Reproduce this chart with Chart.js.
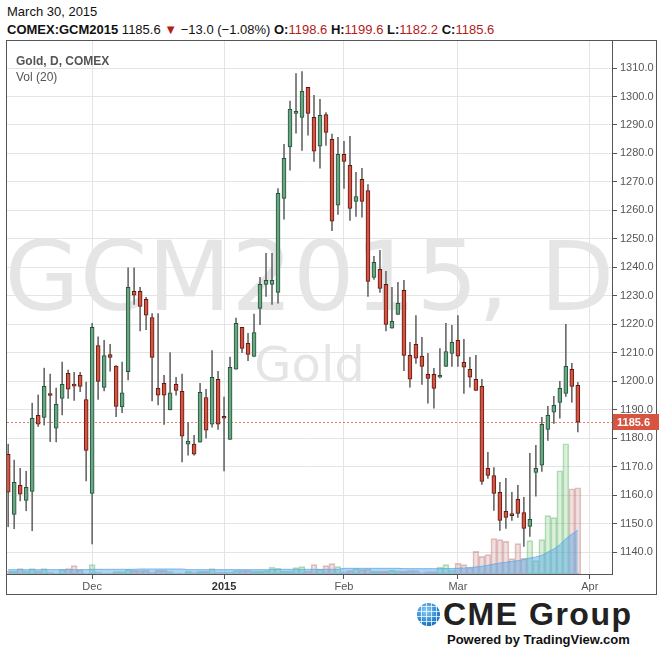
<!DOCTYPE html>
<html>
<head>
<meta charset="utf-8">
<script src="https://cdn.jsdelivr.net/npm/chart.js"></script>
<style>
  html, body { margin: 0; padding: 0; background: #fff; }
  body { width: 664px; height: 652px; position: relative; overflow: hidden; font-family: "Liberation Sans", sans-serif; }
  .abs { position: absolute; white-space: nowrap; }
  #head1 { left: 7px; top: 4px; font-size: 13px; line-height: 15px; color: #111; }
  #head2 { left: 7px; top: 22px; font-size: 13px; line-height: 15px; color: #111; }
  #head2 b { font-weight: bold; }
  #head2 .dn { color: #b3201b; }
  #frame { left: 6px; top: 40px; width: 649px; height: 553px; border: 1px solid #555; }
  #wrap { left: 7px; top: 41px; width: 654px; height: 553px; }
  #title { left: 16px; top: 54px; font-size: 12px; line-height: 14px; font-weight: bold; color: #555; }
  #vol { left: 16px; top: 70px; font-size: 12px; line-height: 14px; color: #555; }
  #globe { left: 417px; top: 603px; width: 23px; height: 23px; border-radius: 50%;
    background:
      repeating-linear-gradient(0deg, transparent 0 4px, rgba(255,255,255,0.75) 4px 5px),
      repeating-linear-gradient(90deg, transparent 0 4px, rgba(255,255,255,0.75) 4px 5px),
      radial-gradient(circle at 40% 35%, #8fd0f5, #2a86d2 55%, #0f55a3); }
  #cme { left: 443px; top: 598px; font-size: 32px; line-height: 32px; font-weight: bold; letter-spacing: 1.5px; color: #222; }
  #tv { left: 447px; top: 633px; font-size: 13px; line-height: 13px; font-weight: bold; color: #111; }
</style>
</head>
<body>
<div id="head1" class="abs">March 30, 2015</div>
<div id="head2" class="abs"><b>COMEX:GCM2015</b> 1185.6 <span class="dn">&#9660;</span> &minus;13.0 (&minus;1.08%) <b>O:</b><span class="dn">1198.6</span> <b>H:</b><span class="dn">1199.6</span> <b>L:</b><span class="dn">1182.2</span> <b>C:</b><span class="dn">1185.6</span></div>
<div id="frame" class="abs"></div>
<div id="wrap" class="abs"><canvas id="chart" width="654" height="553"></canvas></div>
<div id="title" class="abs">Gold, D, COMEX</div>
<div id="vol" class="abs">Vol (20)</div>
<div id="globe" class="abs"></div>
<div id="cme" class="abs">CME Group</div>
<div id="tv" class="abs">Powered by TradingView.com</div>
<script>
// Daily bars, Nov 10 2014 .. Mar 30 2015
var open = [1174.3, 1153.2, 1163.4, 1158.1, 1161.3, 1188.0, 1187.3, 1195.6, 1183.5, 1194.0,
  1202.8, 1198.7, 1202.1, 1193.6, 1160.6, 1212.5, 1197.8, 1209.4, 1205.3, 1191.0,
  1203.4, 1231.6, 1231.6, 1228.8, 1222.4, 1197.5, 1199.3, 1189.9, 1198.9, 1196.5,
  1177.9, 1177.9, 1178.6, 1194.3, 1184.9, 1200.7, 1187.4, 1179.6, 1204.2, 1218.9,
  1213.3, 1208.7, 1225.6, 1234.0, 1234.0, 1231.2, 1264.2, 1282.3, 1294.1, 1292.7,
  1303.2, 1292.7, 1282.6, 1293.7, 1285.0, 1261.8, 1279.7, 1275.8, 1263.2, 1270.9,
  1267.0, 1236.5, 1239.3, 1234.0, 1218.6, 1223.5, 1231.9, 1209.1, 1213.0, 1208.8,
  1202.4, 1202.4, 1201.4, 1205.2, 1209.8, 1214.4, 1206.6, 1204.2, 1200.7, 1198.2,
  1169.4, 1166.9, 1161.0, 1154.3, 1153.1, 1158.5, 1153.9, 1149.0, 1168.0, 1170.5,
  1183.1, 1189.1, 1192.6, 1195.7, 1204.2, 1198.6];
var high = [1177.9, 1172.3, 1169.4, 1168.4, 1192.3, 1195.2, 1204.6, 1202.5, 1197.6, 1206.7,
  1203.9, 1203.1, 1203.1, 1199.7, 1220.3, 1215.6, 1214.4, 1213.0, 1205.5, 1206.7,
  1239.8, 1239.8, 1233.0, 1229.5, 1223.8, 1223.8, 1202.1, 1210.1, 1201.4, 1202.5,
  1185.6, 1181.0, 1199.3, 1197.2, 1210.8, 1203.5, 1194.4, 1208.5, 1222.2, 1218.9,
  1216.8, 1223.6, 1236.5, 1244.9, 1244.9, 1267.7, 1283.2, 1298.4, 1308.1, 1308.8,
  1303.2, 1300.4, 1299.0, 1294.4, 1286.8, 1285.7, 1284.3, 1286.0, 1273.4, 1274.8,
  1269.1, 1243.9, 1246.0, 1238.6, 1233.0, 1234.7, 1235.4, 1213.7, 1223.1, 1215.4,
  1209.8, 1204.5, 1211.5, 1220.3, 1219.6, 1223.1, 1214.7, 1208.4, 1209.1, 1200.7,
  1175.0, 1169.7, 1164.5, 1165.9, 1161.0, 1163.4, 1159.2, 1174.7, 1177.5, 1187.3,
  1191.2, 1194.7, 1200.0, 1220.0, 1206.3, 1199.6];
var low = [1148.9, 1148.2, 1158.0, 1154.5, 1147.5, 1184.1, 1184.6, 1178.8, 1178.7, 1188.2,
  1194.0, 1193.3, 1196.3, 1165.0, 1142.9, 1193.6, 1196.6, 1203.5, 1187.6, 1189.0,
  1200.5, 1227.0, 1217.7, 1218.1, 1193.1, 1191.7, 1184.8, 1189.9, 1195.1, 1171.7,
  1174.0, 1174.0, 1178.6, 1180.0, 1183.9, 1183.1, 1168.5, 1179.6, 1204.2, 1210.0,
  1207.2, 1208.7, 1219.9, 1229.8, 1227.0, 1227.4, 1256.9, 1274.1, 1287.1, 1281.1,
  1286.4, 1277.2, 1274.8, 1282.8, 1252.9, 1258.6, 1267.7, 1256.5, 1257.9, 1257.6,
  1229.8, 1235.8, 1231.2, 1217.7, 1218.6, 1223.5, 1203.7, 1197.9, 1206.3, 1198.9,
  1192.3, 1190.5, 1201.2, 1205.2, 1205.2, 1205.2, 1195.7, 1197.9, 1196.8, 1163.8,
  1165.9, 1154.6, 1147.6, 1148.3, 1151.1, 1152.2, 1142.0, 1145.5, 1159.6, 1168.3,
  1179.2, 1185.2, 1187.0, 1194.7, 1192.6, 1182.2];
var close = [1161.0, 1164.5, 1160.3, 1162.7, 1187.0, 1184.9, 1198.2, 1195.0, 1191.9, 1198.9,
  1197.2, 1198.3, 1198.2, 1175.7, 1218.9, 1199.9, 1209.0, 1208.4, 1191.2, 1195.9,
  1233.0, 1230.2, 1226.3, 1223.2, 1208.4, 1195.1, 1195.1, 1195.9, 1196.8, 1180.7,
  1179.0, 1174.4, 1196.1, 1182.8, 1201.4, 1184.9, 1187.0, 1204.9, 1220.3, 1211.5,
  1209.4, 1217.1, 1234.0, 1235.4, 1235.4, 1266.0, 1278.3, 1295.6, 1294.8, 1301.8,
  1294.1, 1280.8, 1293.4, 1287.4, 1256.2, 1279.7, 1277.2, 1260.7, 1264.9, 1263.2,
  1235.1, 1241.8, 1232.6, 1220.0, 1221.0, 1227.4, 1209.1, 1200.7, 1208.1, 1205.2,
  1201.0, 1197.5, 1201.8, 1210.4, 1213.7, 1208.8, 1204.9, 1201.4, 1196.8, 1164.8,
  1166.9, 1160.6, 1151.1, 1152.2, 1152.8, 1153.6, 1148.3, 1151.5, 1169.4, 1184.9,
  1188.0, 1191.5, 1197.5, 1205.2, 1198.2, 1185.6];
// volume, thousands of contracts
var volume = [4.5, 4, 8, 4.5, 8, 4.5, 8, 2.5, 1.5, 6.5,
  8, 12.5, 6.5, 1.5, 14, 2.5, 1.5, 1.5, 3.5, 3.5,
  6.5, 5.5, 5, 5.5, 2.5, 5.5, 5.5, 3.5, 1.5, 1.5,
  4, 2.5, 4, 4, 8, 3, 2.5, 2.5, 5, 5,
  5.5, 4, 4, 5, 10, 8.5, 4.5, 4.5, 9.5, 11,
  4.5, 14, 7, 12.5, 15.5, 11, 3, 5, 8, 6.5,
  7.5, 4, 4, 4, 5.5, 4.5, 4, 5, 5, 2,
  3.5, 3.5, 10, 14, 6, 16, 14, 9, 34, 26.5,
  29, 53, 51.5, 49, 23, 45.5, 24, 50, 20, 51.5,
  87.5, 84.5, 155, 195.5, 128, 129.5];
// Vol (20) average line as drawn
var volAvg = [6.5, 6.5, 6.5, 6.5, 6.5, 6.5, 6.5, 6.5, 6.5, 6.5,
  6.5, 6.5, 6.5, 6.5, 7, 7, 7, 7, 7, 7,
  7, 7, 7.5, 7.5, 7.5, 7.5, 7.5, 7.5, 7.5, 7.5,
  6.5, 6.5, 6.5, 6.5, 6.5, 6.5, 6.5, 6.5, 6.5, 6.5,
  6.5, 6.5, 6.5, 6.5, 6.5, 7, 7, 7, 7, 7,
  7, 7, 7, 7, 7, 7, 8.5, 8.5, 8.5, 8.5,
  8.5, 8.5, 8.5, 8.5, 8.5, 8.5, 8, 8, 8, 8,
  8, 8, 8, 8.3, 8.3, 8.5, 9, 9.8, 10.5, 11.5,
  13, 15, 16.5, 17.5, 19, 20, 21.8, 24, 25.5, 28,
  33, 37.5, 44, 53, 60, 65.5];
var xTickIdx = [14, 36, 56, 75, 97];
var xTickText = ["Dec", "2015", "Feb", "Mar", "Apr"];
var yTicks = [1140, 1150, 1160, 1170, 1180, 1190, 1200, 1210, 1220, 1230, 1240, 1250, 1260, 1270, 1280, 1290, 1300, 1310];
var lastPrice = 1185.6;

var GREEN = "#6ba583", GREEN_D = "#225437";
var RED = "#d75442", RED_D = "#5b1a13";
var up = close.map(function (c, i) { return c >= open[i]; });

var overlay = {
  id: "overlay",
  beforeDraw: function (chart) {
    var a = chart.chartArea, ctx = chart.ctx;
    var cx = (a.left + a.right) / 2;
    ctx.save();
    ctx.fillStyle = "rgba(0,0,0,0.1)";
    ctx.textAlign = "center";
    ctx.textBaseline = "alphabetic";
    ctx.font = "97px 'DejaVu Sans'";
    ctx.fillText("GCM2015, D", cx, 269);
    ctx.font = "48px 'DejaVu Sans'";
    ctx.fillText("Gold", cx, 340);
    ctx.restore();
  },
  beforeDatasetsDraw: function (chart) {
    var a = chart.chartArea, ctx = chart.ctx;
    var y = Math.round(chart.scales.y.getPixelForValue(lastPrice)) + 0.5;
    ctx.save();
    ctx.strokeStyle = "rgba(226,90,70,0.8)";
    ctx.lineWidth = 1;
    ctx.setLineDash([2, 2]);
    ctx.beginPath();
    ctx.moveTo(a.left, y);
    ctx.lineTo(a.right, y);
    ctx.stroke();
    ctx.restore();
  },
  afterDraw: function (chart) {
    var a = chart.chartArea, ctx = chart.ctx;
    var y = Math.round(chart.scales.y.getPixelForValue(lastPrice));
    ctx.save();
    ctx.fillStyle = "#d75442";
    ctx.fillRect(a.right + 1, y - 8, 46, 16);
    ctx.fillStyle = "#fff";
    ctx.font = "bold 11px 'Liberation Sans'";
    ctx.textBaseline = "middle";
    ctx.fillText(lastPrice.toFixed(1), a.right + 5, y + 1);
    ctx.restore();
  }
};

new Chart(document.getElementById("chart"), {
  type: "bar",
  data: {
    datasets: [
      {
        type: "bar",
        data: open.map(function (o, i) { return { x: i, y: [o, close[i]] }; }),
        backgroundColor: up.map(function (u) { return u ? GREEN : RED; }),
        borderColor: up.map(function (u) { return u ? GREEN_D : RED_D; }),
        borderWidth: 1,
        borderSkipped: false,
        barThickness: 4,
        minBarLength: 2,
        grouped: false,
        yAxisID: "y",
        order: 0,
      },
      {
        type: "bar",
        data: low.map(function (l, i) { return { x: i, y: [l, high[i]] }; }),
        backgroundColor: "#6b6b6b",
        borderWidth: 0,
        barThickness: 1,
        grouped: false,
        yAxisID: "y",
        order: 1,
      },
      {
        type: "line",
        data: volAvg.map(function (v, i) { return { x: i, y: v }; }),
        borderColor: "rgba(95,170,230,0.8)",
        backgroundColor: "rgba(90,170,232,0.5)",
        borderWidth: 1,
        pointRadius: 0,
        fill: "origin",
        tension: 0,
        yAxisID: "vol",
        order: 2,
      },
      {
        type: "bar",
        data: volume.map(function (v, i) { return { x: i, y: v }; }),
        backgroundColor: up.map(function (u) { return u ? "rgba(120,195,125,0.25)" : "rgba(200,130,130,0.25)"; }),
        borderColor: up.map(function (u) { return u ? "rgba(110,190,115,0.5)" : "rgba(190,120,120,0.45)"; }),
        borderWidth: 1,
        borderSkipped: false,
        barThickness: 6,
        grouped: false,
        yAxisID: "vol",
        order: 3,
      },
    ],
  },
  options: {
    responsive: false,
    animation: false,
    layout: { padding: 0 },
    plugins: { legend: { display: false }, tooltip: { enabled: false } },
    scales: {
      x: {
        type: "linear",
        position: "bottom",
        offset: false,
        min: -0.2,
        max: 100.7,
        grid: { offset: false, color: "#e4e4e4", tickColor: "#555", tickLength: 5 },
        border: { color: "#555" },
        afterBuildTicks: function (s) { s.ticks = xTickIdx.map(function (v) { return { value: v }; }); },
        afterFit: function (s) { s.height = 20; s.paddingLeft = 0; s.paddingRight = 0; },
        ticks: {
          autoSkip: false,
          maxRotation: 0,
          padding: 1,
          color: function (ctx) { return ctx.tick && ctx.tick.value === 36 ? "#333" : "#555"; },
          font: function (ctx) {
            return { family: "'Liberation Sans'", size: 11, weight: ctx.tick && ctx.tick.value === 36 ? "bold" : "normal" };
          },
          callback: function (v) { return xTickText[xTickIdx.indexOf(v)]; },
        },
      },
      y: {
        position: "right",
        min: 1132.3,
        max: 1319.5,
        grid: { color: "#e4e4e4", tickColor: "#555", tickLength: 5 },
        border: { color: "#555" },
        afterBuildTicks: function (s) { s.ticks = yTicks.map(function (v) { return { value: v }; }); },
        afterFit: function (s) { s.width = 49; s.paddingTop = 0; s.paddingBottom = 0; },
        ticks: {
          padding: 3,
          color: "#555",
          font: { family: "'Liberation Sans'", size: 11 },
          callback: function (v) { return Number(v).toFixed(1); },
        },
      },
      vol: { display: false, min: 0, max: 800 },
    },
  },
  plugins: [overlay],
});
</script>
</body>
</html>
